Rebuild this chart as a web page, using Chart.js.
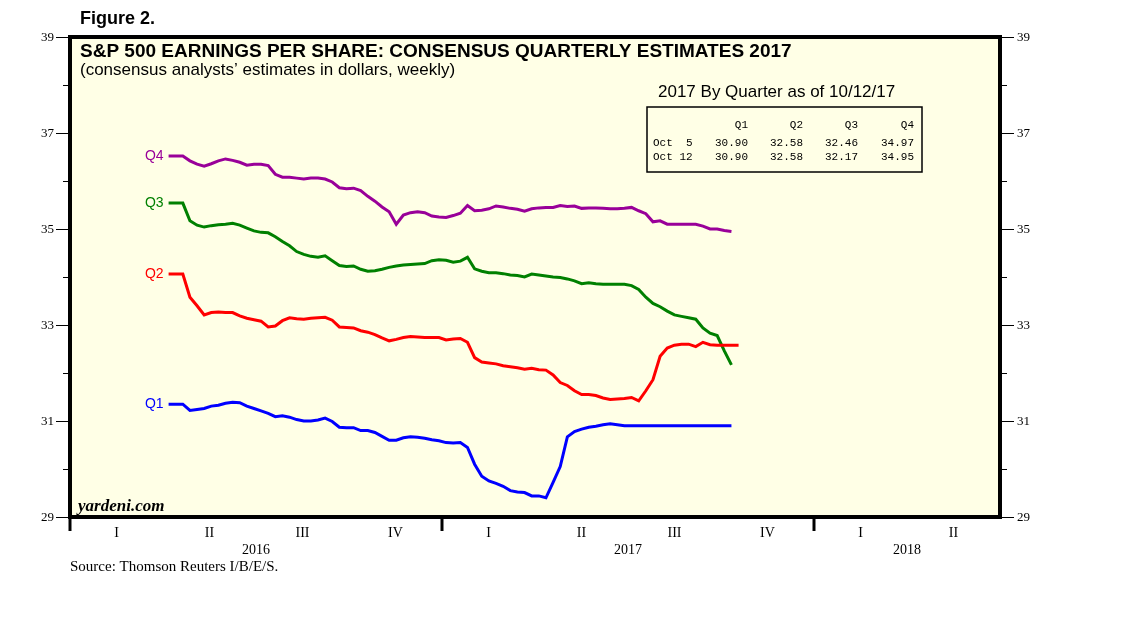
<!DOCTYPE html>
<html>
<head>
<meta charset="utf-8">
<script src="https://cdn.jsdelivr.net/npm/chart.js@4.4.1/dist/chart.umd.min.js"></script>
<style>
  html, body { margin: 0; padding: 0; background: #fff; }
  canvas { display: block; }
</style>
</head>
<body>
<canvas id="chart" width="1138" height="621"></canvas>
<script>
'use strict';
// weekly consensus estimates, first week ends Apr 7 2016, last Oct 12 2017 (Q2 one week more)
var firstWeek = '2016-04-07';
var seriesNames = ['Q1', 'Q2', 'Q3', 'Q4'];
var q1 = [31.35,31.35,31.35,31.22,31.24,31.26,31.31,31.33,31.37,31.39,31.38,31.31,31.26,31.21,31.16,31.09,31.11,31.08,31.03,31.00,
  31.00,31.02,31.06,30.99,30.87,30.86,30.86,30.80,30.80,30.76,30.68,30.60,30.60,30.65,30.67,30.66,30.64,30.61,30.59,30.55,
  30.54,30.55,30.45,30.10,29.85,29.75,29.70,29.64,29.55,29.52,29.51,29.44,29.44,29.40,29.72,30.05,30.67,30.78,30.83,30.87,
  30.89,30.92,30.94,30.92,30.90,30.90,30.90,30.90,30.90,30.90,30.90,30.90,30.90,30.90,30.90,30.90,30.90,30.90,30.90,30.90];
var q2 = [34.06,34.06,34.06,33.58,33.40,33.21,33.26,33.27,33.26,33.26,33.19,33.14,33.11,33.08,32.96,32.98,33.09,33.15,33.13,33.12,
  33.14,33.15,33.16,33.10,32.96,32.95,32.94,32.88,32.85,32.80,32.73,32.67,32.70,32.74,32.76,32.75,32.74,32.74,32.74,32.69,
  32.71,32.72,32.64,32.32,32.23,32.21,32.19,32.15,32.13,32.11,32.08,32.10,32.07,32.06,31.96,31.80,31.74,31.63,31.55,31.55,
  31.53,31.48,31.45,31.46,31.47,31.49,31.42,31.63,31.86,32.35,32.52,32.58,32.60,32.60,32.55,32.64,32.59,32.58,32.58,32.58,32.58];
var q3 = [35.54,35.54,35.54,35.17,35.08,35.04,35.07,35.09,35.10,35.12,35.08,35.02,34.96,34.93,34.92,34.84,34.74,34.65,34.53,34.47,
  34.43,34.41,34.44,34.34,34.24,34.22,34.23,34.16,34.12,34.13,34.16,34.20,34.23,34.25,34.26,34.27,34.28,34.34,34.36,34.35,
  34.31,34.33,34.41,34.17,34.12,34.09,34.09,34.07,34.04,34.03,34.00,34.06,34.04,34.02,34.00,33.99,33.96,33.92,33.86,33.88,
  33.86,33.85,33.85,33.85,33.85,33.82,33.74,33.58,33.45,33.38,33.29,33.21,33.18,33.15,33.12,32.94,32.83,32.78,32.46,32.17];
var q4 = [36.52,36.52,36.52,36.42,36.35,36.31,36.36,36.42,36.46,36.43,36.39,36.33,36.35,36.35,36.32,36.14,36.08,36.08,36.06,36.04,
  36.06,36.06,36.04,35.98,35.86,35.84,35.85,35.80,35.68,35.58,35.46,35.36,35.10,35.29,35.34,35.36,35.34,35.27,35.25,35.24,
  35.28,35.33,35.49,35.38,35.39,35.42,35.48,35.46,35.43,35.41,35.37,35.42,35.44,35.45,35.45,35.49,35.47,35.48,35.43,35.44,
  35.44,35.43,35.42,35.42,35.43,35.45,35.38,35.32,35.15,35.17,35.10,35.10,35.10,35.10,35.10,35.06,35.00,35.00,34.97,34.95];
var yTicks = [29, 31, 33, 35, 37, 39];
var quarterLabels = ['I', 'II', 'III', 'IV'];
var yearLabels = [2016, 2017, 2018];
var xMin = 2016, xMax = 2018.5;
var tableTitle = '2017 By Quarter as of 10/12/17';
var tableRows = ['Oct  5', 'Oct 12'];
var tableValues = [[30.90, 32.58, 32.46, 34.97], [30.90, 32.58, 32.17, 34.95]];

var lineColors = ['#0000ff', '#ff0000', '#008000', '#990099'];
var serif = '"Liberation Serif", "Times New Roman", serif';
var sans = '"Liberation Sans", Arial, sans-serif';
var mono = '"Liberation Mono", "Courier New", monospace';

// date -> fractional year
function toYear(d){
  var y = d.getUTCFullYear();
  var start = Date.UTC(y, 0, 1), end = Date.UTC(y + 1, 0, 1);
  return y + (d.getTime() - start) / (end - start);
}
function weekPoints(values){
  var pts = [];
  var t0 = new Date(firstWeek + 'T00:00:00Z').getTime();
  for (var i = 0; i < values.length; i++){
    pts.push({x: toYear(new Date(t0 + i * 7 * 86400000)), y: values[i]});
  }
  return pts;
}

var allSeries = [q1, q2, q3, q4];
var datasets = [];
for (var s = 0; s < allSeries.length; s++){
  datasets.push({
    label: seriesNames[s],
    data: weekPoints(allSeries[s]),
    borderColor: lineColors[s],
    borderWidth: 3,
    pointRadius: 0,
    tension: 0,
    fill: false
  });
}

var decor = {
  id: 'decor',
  beforeDatasetsDraw: function(chart){
    var c = chart.ctx, a = chart.chartArea;
    c.save();
    c.fillStyle = '#ffffe6';
    c.fillRect(a.left, a.top, a.right - a.left, a.bottom - a.top);
    c.restore();
  },
  afterDatasetsDraw: function(chart){
    var c = chart.ctx, a = chart.chartArea;
    var xs = chart.scales.x, ys = chart.scales.y;
    c.save();
    // frame
    c.strokeStyle = '#000';
    c.lineWidth = 4;
    c.strokeRect(a.left, a.top, a.right - a.left, a.bottom - a.top);

    // y ticks both sides
    c.lineWidth = 1;
    c.fillStyle = '#000';
    c.font = '13px ' + serif;
    c.textBaseline = 'middle';
    for (var v = ys.min; v <= ys.max; v++){
      var py = Math.round(ys.getPixelForValue(v)) + 0.5;
      var major = yTicks.indexOf(v) >= 0;
      var len = major ? 14 : 7;
      c.beginPath();
      c.moveTo(a.left - len, py); c.lineTo(a.left, py);
      c.moveTo(a.right, py); c.lineTo(a.right + len, py);
      c.stroke();
      if (major){
        c.textAlign = 'right';
        c.fillText(String(v), a.left - 16, py);
        c.textAlign = 'left';
        c.fillText(String(v), a.right + 17, py);
      }
    }

    // x: year separators, quarters, years
    c.lineWidth = 3;
    for (var k = 0; k < yearLabels.length; k++){
      var px = xs.getPixelForValue(yearLabels[k]);
      c.beginPath();
      c.moveTo(px, a.bottom); c.lineTo(px, a.bottom + 14);
      c.stroke();
    }
    c.font = '14px ' + serif;
    c.textAlign = 'center';
    c.textBaseline = 'alphabetic';
    for (var y = xMin; y < xMax; y++){
      for (var q = 0; q < 4; q++){
        var qv = y + (q + 0.5) / 4;
        if (qv > xMax) break;
        c.fillText(quarterLabels[q], xs.getPixelForValue(qv), 537);
      }
    }
    // year label centred on the visible part of the year
    for (var k2 = 0; k2 < yearLabels.length; k2++){
      var yEnd = Math.min(yearLabels[k2] + 1, xMax);
      c.fillText(String(yearLabels[k2]), xs.getPixelForValue((yearLabels[k2] + yEnd) / 2), 554);
    }

    // series labels at start of each line
    c.font = '14px ' + sans;
    c.textAlign = 'right';
    c.textBaseline = 'middle';
    for (var s = 0; s < datasets.length; s++){
      var p0 = datasets[s].data[0];
      c.fillStyle = lineColors[s];
      c.fillText(seriesNames[s], xs.getPixelForValue(p0.x) - 5, ys.getPixelForValue(p0.y));
    }

    // titles
    c.fillStyle = '#000';
    c.textAlign = 'left';
    c.textBaseline = 'alphabetic';
    c.font = 'bold 18px ' + sans;
    c.fillText('Figure 2.', 80, 24);
    c.font = 'bold 19px ' + sans;
    c.fillText('S&P 500 EARNINGS PER SHARE: CONSENSUS QUARTERLY ESTIMATES 2017', 80, 57);
    c.font = '17px ' + sans;
    c.fillText('(consensus analysts\u2019 estimates in dollars, weekly)', 80, 75);
    c.font = 'italic bold 17px ' + serif;
    c.fillText('yardeni.com', 78, 511);
    c.font = '15px ' + serif;
    c.fillText('Source: Thomson Reuters I/B/E/S.', 70, 571);

    // table
    c.font = '17px ' + sans;
    c.fillText(tableTitle, 658, 97);
    c.lineWidth = 1.5;
    c.strokeStyle = '#000';
    c.strokeRect(647, 107, 275, 65);
    c.font = '11px ' + mono;
    c.textBaseline = 'middle';
    var colRight = [748, 803, 858, 914];
    c.textAlign = 'right';
    for (var j = 0; j < seriesNames.length; j++) c.fillText(seriesNames[j], colRight[j], 125);
    for (var r = 0; r < tableRows.length; r++){
      var ry = 143 + r * 14;
      c.textAlign = 'left';
      c.fillText(tableRows[r], 653, ry);
      c.textAlign = 'right';
      for (var j2 = 0; j2 < tableValues[r].length; j2++){
        c.fillText(tableValues[r][j2].toFixed(2), colRight[j2], ry);
      }
    }
    c.restore();
  }
};

var chart = new Chart(document.getElementById('chart'), {
  type: 'line',
  data: { datasets: datasets },
  options: {
    responsive: false,
    animation: false,
    devicePixelRatio: 1,
    layout: { padding: { left: 70, top: 37, right: 138, bottom: 104 } },
    plugins: { legend: { display: false }, tooltip: { enabled: false } },
    scales: {
      x: { type: 'linear', min: xMin, max: xMax, display: false },
      y: { type: 'linear', min: 29, max: 39, display: false }
    }
  },
  plugins: [decor]
});
</script>
</body>
</html>
